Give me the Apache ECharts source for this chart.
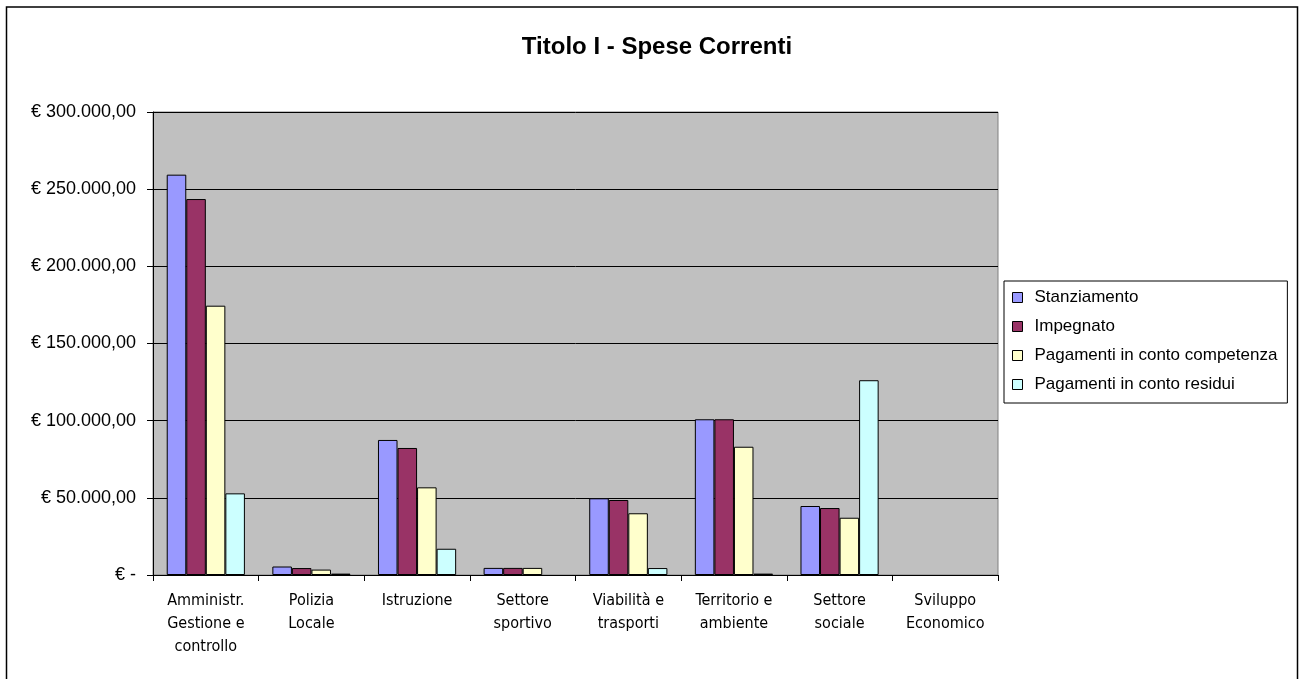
<!DOCTYPE html>
<html>
<head>
<meta charset="utf-8">
<script src="https://cdn.jsdelivr.net/npm/echarts@6/dist/echarts.min.js"></script>
<style>
  html, body { margin: 0; padding: 0; background: #fff; }
  #main { width: 1300px; height: 679px; }
</style>
</head>
<body>
<div id="main"></div>
<script>
// categorie (asse x)
var categories = [
  'Amministr.\nGestione e\ncontrollo',
  'Polizia\nLocale',
  'Istruzione',
  'Settore\nsportivo',
  'Viabilità e\ntrasporti',
  'Territorio e\nambiente',
  'Settore\nsociale',
  'Sviluppo\nEconomico'
];

// valori
var stanziamento = [259400, 5500, 87500, 4600, 49700, 100900, 44700, 0];
var impegnato    = [243600, 4500, 82300, 4600, 48600, 100900, 43400, 0];
var pagCompetenza = [174500, 3500, 56800, 4600, 40000, 83100, 37100, 0];
var pagResidui   = [52900, 900, 17000, 0, 4500, 900, 126200, 0];

// etichette asse y
var yTickLabels = ['€ -', '€ 50.000,00', '€ 100.000,00', '€ 150.000,00',
                   '€ 200.000,00', '€ 250.000,00', '€ 300.000,00'];

var seriesNames = ['Stanziamento', 'Impegnato', 'Pagamenti in conto competenza', 'Pagamenti in conto residui'];
var seriesColors = ['#9999FF', '#993366', '#FFFFCC', '#CCFFFF'];
var seriesData = [stanziamento, impegnato, pagCompetenza, pagResidui];

var FONT = 'Liberation Sans, Arial, sans-serif';
var FONT_NARROW = 'Liberation Sans Narrow, Arial Narrow, DejaVu Sans Condensed, sans-serif';

var chart = echarts.init(document.getElementById('main'));

var series = seriesNames.map(function (name, i) {
  return {
    name: name,
    type: 'bar',
    barGap: '0%',
    barCategoryGap: '26%',
    // in Excel i valori nulli non disegnano nulla
    data: seriesData[i].map(function (v) { return v === 0 ? null : v; }),
    itemStyle: {
      color: seriesColors[i],
      borderColor: '#000',
      borderWidth: 1
    }
  };
});

var option = {
  animation: false,
  backgroundColor: '#fff',
  textStyle: { fontFamily: FONT },
  title: {
    text: 'Titolo I - Spese Correnti',
    left: 652,
    textAlign: 'center',
    top: 30,
    textStyle: { fontFamily: FONT, fontSize: 24, fontWeight: 'bold', color: '#000' }
  },
  legend: {
    orient: 'vertical',
    left: 1004,
    top: 281,
    padding: [8, 10, 10, 8],
    itemGap: 12,
    itemWidth: 10,
    itemHeight: 10,
    icon: 'rect',
    borderColor: '#000',
    borderWidth: 1,
    textStyle: { fontFamily: FONT, fontSize: 17, lineHeight: 17, color: '#000', padding: [0, 0, 0, 7] },
    itemStyle: { borderColor: '#000', borderWidth: 1 },
    data: seriesNames
  },
  grid: {
    left: 153,
    top: 112,
    right: 302,
    bottom: 104,
    show: true,
    backgroundColor: '#C0C0C0',
    borderColor: '#808080',
    borderWidth: 1
  },
  xAxis: {
    type: 'category',
    data: categories,
    axisLine: { lineStyle: { color: '#000', width: 1 } },
    axisTick: { show: true, inside: false, length: 6, lineStyle: { color: '#000' } },
    axisLabel: {
      interval: 0,
      margin: 14,
      color: '#000',
      fontFamily: FONT_NARROW,
      fontSize: 16,
      lineHeight: 23
    }
  },
  yAxis: {
    type: 'value',
    min: 0,
    max: 300000,
    interval: 50000,
    axisLine: { show: true, lineStyle: { color: '#000' } },
    axisTick: { show: true, length: 6, lineStyle: { color: '#000' } },
    splitLine: { show: true, lineStyle: { color: '#000', width: 1 } },
    axisLabel: {
      margin: 17,
      color: '#000',
      fontFamily: FONT,
      fontSize: 18,
      formatter: function (v) { return yTickLabels[Math.round(v / 50000)]; }
    }
  },
  graphic: [
    {
      type: 'rect',
      silent: true,
      z: -1,
      shape: { x: 6.5, y: 7, width: 1291, height: 700 },
      style: { fill: 'none', stroke: '#000', lineWidth: 1.5 }
    }
  ],
  series: series
};

chart.setOption(option);
</script>
</body>
</html>
